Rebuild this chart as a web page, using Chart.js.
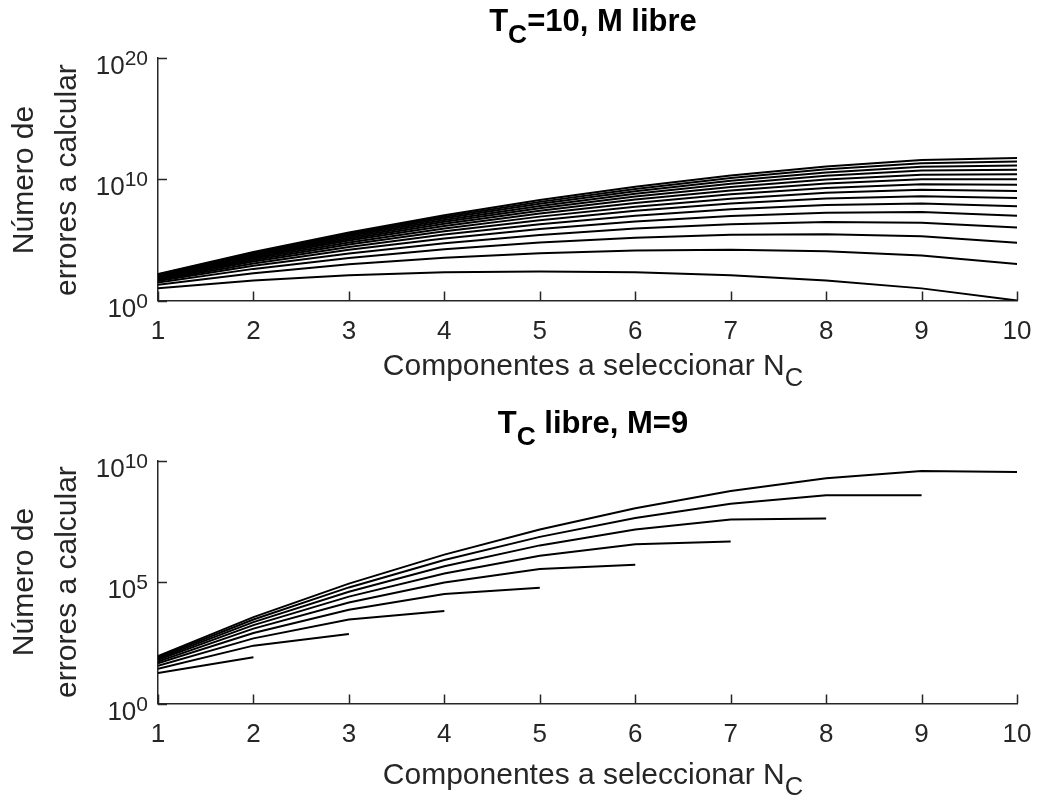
<!DOCTYPE html>
<html>
<head>
<meta charset="utf-8">
<script src="https://cdn.jsdelivr.net/npm/chart.js@4.4.1/dist/chart.umd.min.js"></script>
<style>
  body { margin: 0; background: #fff; }
  #wrap { position: relative; width: 1047px; height: 799px; overflow: hidden;
          font-family: 'Liberation Sans', Arial, Helvetica, sans-serif; color: #262626; }
  canvas { position: absolute; left: 0; }
  .lbl { position: absolute; white-space: nowrap; font-size: 30px; line-height: 30px; transform: translateX(-50%); }
  .title { font-weight: bold; color: #000; font-size: 31px; line-height: 31px; }
  .lbl sub { font-size: 0.85em; vertical-align: -0.45em; line-height: 0; }
  .ylab { position: absolute; width: 400px; height: 86px; font-size: 30px; line-height: 43px;
          text-align: center; transform: rotate(-90deg); white-space: nowrap; }
</style>
</head>
<body>
<div id="wrap">
  <canvas id="chartTop" width="1047" height="400" style="top:0"></canvas>
  <canvas id="chartBot" width="1047" height="399" style="top:400px"></canvas>

  <div class="lbl title" style="left:593px; top:5px">T<sub>C</sub>=10, M libre</div>
  <div class="lbl" style="left:593px; top:350px">Componentes a seleccionar N<sub>C</sub></div>
  <div class="ylab" style="left:-156px; top:137px">Número de<br>errores a calcular</div>

  <div class="lbl title" style="left:593px; top:407px">T<sub>C</sub> libre, M=9</div>
  <div class="lbl" style="left:593px; top:759px">Componentes a seleccionar N<sub>C</sub></div>
  <div class="ylab" style="left:-156px; top:539px">Número de<br>errores a calcular</div>
</div>

<script>
const FONT = "'Liberation Sans', Arial, Helvetica, sans-serif";

// x values (N_C)
const nC = [1, 2, 3, 4, 5, 6, 7, 8, 9, 10];

// top panel: T_C = 10, one curve per M
const top1  = [10, 45, 120, 210, 252, 210, 120, 45, 10, 1];
const top2  = [20, 180, 960, 3360, 8060, 1.34e4, 1.54e4, 1.15e4, 5120, 1020];
const top3  = [30, 405, 3240, 1.70e4, 6.12e4, 1.53e5, 2.62e5, 2.95e5, 1.97e5, 5.90e4];
const top4  = [40, 720, 7680, 5.38e4, 2.58e5, 8.60e5, 1.97e6, 2.95e6, 2.62e6, 1.05e6];
const top5  = [50, 1130, 1.50e4, 1.31e5, 7.88e5, 3.28e6, 9.38e6, 1.76e7, 1.95e7, 9.77e6];
const top6  = [60, 1620, 2.59e4, 2.72e5, 1.96e6, 9.80e6, 3.36e7, 7.56e7, 1.01e8, 6.05e7];
const top7  = [70, 2210, 4.12e4, 5.04e5, 4.24e6, 2.47e7, 9.88e7, 2.59e8, 4.04e8, 2.82e8];
const top8  = [80, 2880, 6.14e4, 8.60e5, 8.26e6, 5.51e7, 2.52e8, 7.55e8, 1.34e9, 1.07e9];
const top9  = [90, 3650, 8.75e4, 1.38e6, 1.49e7, 1.12e8, 5.74e8, 1.94e9, 3.87e9, 3.49e9];
const top10 = [100, 4500, 1.20e5, 2.10e6, 2.52e7, 2.10e8, 1.20e9, 4.50e9, 1.00e10, 1.00e10];
const top11 = [110, 5450, 1.60e5, 3.07e6, 4.06e7, 3.72e8, 2.34e9, 9.65e9, 2.36e10, 2.59e10];
const top12 = [120, 6480, 2.07e5, 4.35e6, 6.27e7, 6.27e8, 4.30e9, 1.93e10, 5.16e10, 6.19e10];
const top13 = [130, 7610, 2.64e5, 6.00e6, 9.36e7, 1.01e9, 7.53e9, 3.67e10, 1.06e11, 1.38e11];
const top14 = [140, 8820, 3.29e5, 8.07e6, 1.36e8, 1.58e9, 1.26e10, 6.64e10, 2.07e11, 2.89e11];
const top15 = [150, 1.01e4, 4.05e5, 1.06e7, 1.91e8, 2.39e9, 2.05e10, 1.15e11, 3.84e11, 5.77e11];

// bottom panel: M = 9, one curve per T_C (ends at N_C = T_C)
const bot2  = [18, 81];
const bot3  = [27, 243, 729];
const bot4  = [36, 486, 2920, 6560];
const bot5  = [45, 810, 7290, 3.28e4, 5.90e4];
const bot6  = [54, 1220, 1.46e4, 9.84e4, 3.54e5, 5.31e5];
const bot7  = [63, 1700, 2.55e4, 2.30e5, 1.24e6, 3.72e6, 4.78e6];
const bot8  = [72, 2270, 4.08e4, 4.59e5, 3.31e6, 1.49e7, 3.83e7, 4.30e7];
const bot9  = [81, 2920, 6.12e4, 8.27e5, 7.44e6, 4.46e7, 1.72e8, 3.87e8, 3.87e8];
const bot10 = [90, 3650, 8.75e4, 1.38e6, 1.49e7, 1.12e8, 5.74e8, 1.94e9, 3.87e9, 3.49e9];

// y tick values
const topYTicks = [1, 1e10, 1e20];
const botYTicks = [1, 1e5, 1e10];

// inner ticks + 10^n labels, matlab style
const axisDecor = {
  id: 'axisDecor',
  afterDraw(chart) {
    const ctx = chart.ctx;
    const area = chart.chartArea;
    const xs = chart.scales.x, ys = chart.scales.y;
    ctx.save();
    ctx.strokeStyle = '#262626';
    ctx.fillStyle = '#262626';
    ctx.lineWidth = 1.5;
    ctx.beginPath();
    xs.ticks.forEach(t => {
      const px = Math.round(xs.getPixelForValue(t.value)) + 0.5;
      ctx.moveTo(px, area.bottom);
      ctx.lineTo(px, area.bottom - 9);
    });
    ys.ticks.forEach(t => {
      const py = Math.round(ys.getPixelForValue(t.value)) + 0.5;
      ctx.moveTo(area.left, py);
      ctx.lineTo(area.left + 9, py);
    });
    ctx.stroke();

    ctx.textAlign = 'right';
    ctx.textBaseline = 'alphabetic';
    ys.ticks.forEach(t => {
      const py = ys.getPixelForValue(t.value);
      const exp = String(Math.round(Math.log10(t.value)));
      const right = area.left - 10;
      ctx.font = '21px ' + FONT;
      const ew = ctx.measureText(exp).width;
      ctx.fillText(exp, right, py + 7);
      ctx.font = '26px ' + FONT;
      ctx.fillText('10', right - ew, py + 16);
    });
    ctx.restore();
  }
};

function makeChart(id, series, yMin, yMax, yTicks, padTop, padBottom) {
  const datasets = series.map(s => ({
    data: s.map((v, i) => ({ x: nC[i], y: v })),
    borderColor: '#000',
    borderWidth: 2,
    pointRadius: 0,
    fill: false,
    tension: 0
  }));
  return new Chart(document.getElementById(id), {
    type: 'line',
    data: { datasets: datasets },
    options: {
      responsive: false,
      animation: false,
      layout: { padding: { left: 0, top: padTop, right: 19, bottom: padBottom } },
      plugins: { legend: { display: false }, tooltip: { enabled: false } },
      scales: {
        x: {
          type: 'linear', min: 1, max: 10,
          afterFit: s => { s.height = 50; },
          grid: { display: false, drawTicks: false },
          border: { display: true, color: '#262626', width: 1.5 },
          ticks: { stepSize: 1, autoSkip: false, maxRotation: 0, padding: 15.5,
                   color: '#262626', font: { family: FONT, size: 26 } }
        },
        y: {
          type: 'logarithmic', min: yMin, max: yMax,
          afterFit: s => { s.width = 158; },
          afterBuildTicks: s => { s.ticks = yTicks.map(v => ({ value: v })); },
          grid: { display: false, drawTicks: false },
          border: { display: true, color: '#262626', width: 1.5 },
          ticks: { display: false }
        }
      }
    },
    plugins: [axisDecor]
  });
}

makeChart('chartTop',
  [top1, top2, top3, top4, top5, top6, top7, top8, top9, top10, top11, top12, top13, top14, top15],
  1, 1e20, topYTicks, 58, 49.5);

makeChart('chartBot',
  [bot2, bot3, bot4, bot5, bot6, bot7, bot8, bot9, bot10],
  1, 1e10, botYTicks, 61, 45.5);
</script>
</body>
</html>
